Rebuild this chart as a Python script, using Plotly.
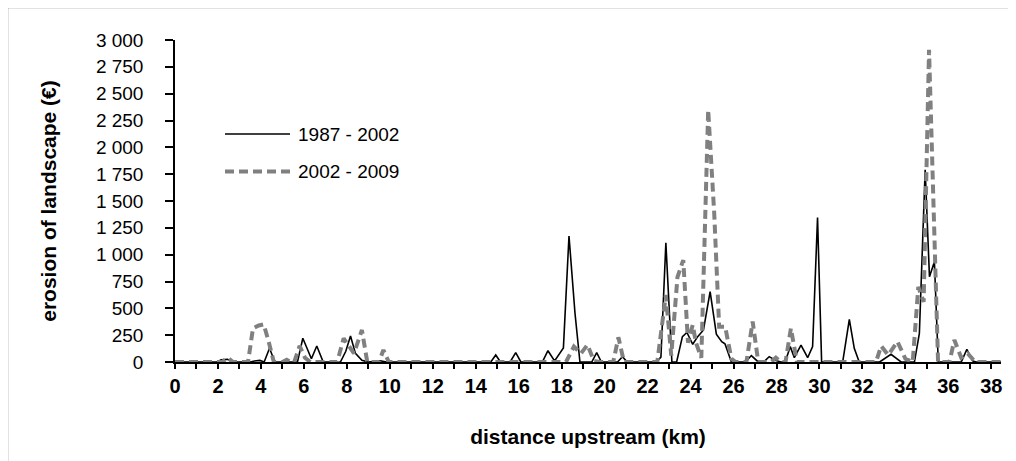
import plotly.graph_objects as go

# ---- data (vertices) ----
km_1987_2002 = [0, 1.95, 2.15, 2.45, 2.65, 3.5, 3.7, 3.95, 4.15, 4.4, 4.65, 5.7, 5.95, 6.35, 6.6, 6.9,
                7.7, 7.95, 8.17, 8.4, 8.7, 9.0, 9.55, 9.85, 14.7, 14.93, 15.15, 15.6, 15.86, 16.1,
                17.1, 17.36, 17.67, 18.08, 18.34, 18.62, 18.85, 19.4, 19.63, 19.85, 20.6, 20.83, 21.05,
                22.4, 22.62, 22.85, 23.13, 23.35, 23.62, 23.83, 24.1, 24.33, 24.6, 24.91, 25.2, 25.45,
                25.6, 25.9, 26.55, 26.83, 27.1, 27.4, 27.66, 27.97, 28.2, 28.4, 28.64, 28.83, 29.14,
                29.45, 29.68, 29.91, 30.1, 31.08, 31.39, 31.62, 31.85, 32.8, 33.33, 33.8, 34.42, 34.65,
                34.92, 35.12, 35.35, 35.53, 36.6, 36.86, 37.13, 37.3, 38.45]
val_1987_2002 = [0, 0, 20, 25, 0, 0, 10, 15, 0, 128, 0, 0, 221, 30, 149, 0,
                 0, 100, 242, 80, 15, 0, 10, 0, 0, 65, 0, 0, 87, 0,
                 0, 105, 10, 130, 1174, 454, 0, 0, 87, 0, 0, 50, 0,
                 0, 45, 1110, 0, 0, 236, 275, 165, 236, 298, 655, 260, 190,
                 170, 0, 0, 60, 10, 0, 50, 15, 0, 0, 143, 40, 158,
                 40, 143, 1345, 0, 0, 398, 128, 0, 0, 72, 0, 0, 267,
                 1790, 795, 935, 0, 0, 118, 10, 0, 0]

km_2002_2009 = [0, 2.2, 2.45, 2.7, 3.4, 3.63, 3.9, 4.13, 4.36, 4.6, 5.0, 5.2, 5.4, 5.55, 5.8, 6.05, 6.3,
                7.55, 7.85, 8.33, 8.7, 8.95, 9.5, 9.7, 9.95, 18.2, 18.57, 18.9, 19.2, 19.5, 19.75,
                20.4, 20.64, 20.9, 22.45, 22.85, 23.1, 23.39, 23.66, 23.88, 24.1, 24.25, 24.5, 24.82,
                25.1, 25.33, 25.61, 25.9, 26.1, 26.6, 26.89, 27.15, 27.75, 27.97, 28.2, 28.42, 28.67,
                28.95, 32.63, 32.87, 33.2, 33.63, 34.0, 34.34, 34.6, 34.85, 35.1, 35.35, 35.52, 36.05,
                36.28, 36.6, 36.9, 37.25, 38.45]
val_2002_2009 = [0, 0, 40, 0, 0, 314, 340, 351, 190, 0, 0, 20, 0, 0, 150, 40, 0,
                 0, 220, 80, 298, 0, 0, 112, 0, 0, 143, 80, 160, 10, 0,
                 0, 230, 0, 0, 624, 60, 790, 950, 180, 345, 180, 40, 2349,
                 1386, 329, 329, 30, 0, 0, 376, 0, 0, 40, 0, 0, 314,
                 0, 0, 149, 65, 190, 30, 0, 700, 560, 2908, 1013, 0, 0,
                 205, 40, 80, 0, 0]

series_names = ["1987 - 2002", "2002 - 2009"]
x_tick_vals = list(range(0, 39, 2))
y_tick_vals = [0, 250, 500, 750, 1000, 1250, 1500, 1750, 2000, 2250, 2500, 2750, 3000]
y_tick_text = ["0", "250", "500", "750", "1 000", "1 250", "1 500", "1 750", "2 000",
               "2 250", "2 500", "2 750", "3 000"]

FONT = "Arial, 'Liberation Sans', sans-serif"
GRAY = "#808080"

fig = go.Figure()
fig.add_trace(go.Scatter(x=km_1987_2002, y=val_1987_2002, mode="lines", name=series_names[0],
                         line=dict(color="black", width=1.6), showlegend=False))
fig.add_trace(go.Scatter(x=km_2002_2009, y=val_2002_2009, mode="lines", name=series_names[1],
                         line=dict(color=GRAY, width=4, dash="9px,5px"), showlegend=False))

# the page body adds an 8px offset; target positions are given in screen pixels
OFF = 8
W, H = 1016, 461
plot_left, plot_right, plot_top, plot_bottom = 175, 1001, 40, 362
L = plot_left - OFF
T = plot_top - OFF
R = W - (plot_right - OFF)
B = H - (plot_bottom - OFF)
pw, ph = W - L - R, H - T - B


def px(xs):
    return (xs - plot_left) / pw


def py(ys):
    return (plot_bottom - ys) / ph


shapes = [
    # outer chart frame (only top and left visible in the reference)
    dict(type="rect", xref="paper", yref="paper", x0=px(7.5), x1=px(1040), y0=py(490), y1=py(7.5),
         line=dict(color="#8a8a8a", width=1.5), layer="below"),
    # legend samples
    dict(type="line", xref="paper", yref="paper", x0=px(225), x1=px(290), y0=py(134), y1=py(134),
         line=dict(color="black", width=1.6)),
    dict(type="line", xref="paper", yref="paper", x0=px(225), x1=px(290), y0=py(171.5), y1=py(171.5),
         line=dict(color=GRAY, width=4, dash="9px,5px")),
]
annotations = [
    dict(xref="paper", yref="paper", x=px(296), y=py(134), text=series_names[0], showarrow=False,
         xanchor="left", yanchor="middle", font=dict(family=FONT, size=19, color="black")),
    dict(xref="paper", yref="paper", x=px(296), y=py(171.5), text=series_names[1], showarrow=False,
         xanchor="left", yanchor="middle", font=dict(family=FONT, size=19, color="black")),
]

fig.update_layout(
    width=W, height=H,
    margin=dict(l=L, r=R, t=T, b=B, autoexpand=False),
    paper_bgcolor="white", plot_bgcolor="white",
    font=dict(family=FONT, color="black"),
    shapes=shapes, annotations=annotations,
    xaxis=dict(range=[0, 38.45], tickvals=x_tick_vals, showgrid=False, zeroline=False,
               showline=True, linecolor="black", linewidth=1.5,
               ticks="outside", ticklen=5, tickwidth=1.5, tickcolor="black",
               minor=dict(dtick=1, ticks="outside", ticklen=5, tickwidth=1.5, tickcolor="black"),
               tickfont=dict(family=FONT, size=20, color="black", weight="bold"),
               title=dict(text="<b>distance upstream (km)</b>", font=dict(family=FONT, size=21),
                          standoff=34),
               automargin=False),
    yaxis=dict(range=[0, 3000], tickvals=y_tick_vals, ticktext=y_tick_text, showgrid=False,
               zeroline=False, showline=True, linecolor="black", linewidth=1.5,
               ticks="outside", ticklen=8, tickwidth=1.5, tickcolor="black",
               ticklabelstandoff=18,
               tickfont=dict(family=FONT, size=19, color="black"),
               title=dict(text="<b>erosion of landscape (€)</b>", font=dict(family=FONT, size=21),
                          standoff=34),
               automargin=False),
)

fig.write_html("out.html")
